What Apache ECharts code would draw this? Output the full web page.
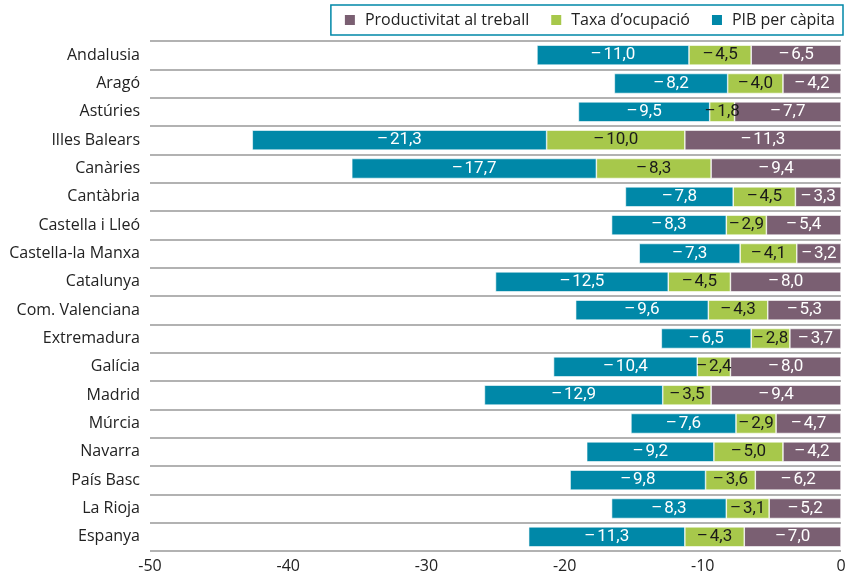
<!DOCTYPE html>
<html><head><meta charset="utf-8">
<script src="https://cdn.jsdelivr.net/npm/echarts@6/dist/echarts.min.js"></script>
<style>html,body{margin:0;padding:0;background:#fff}#c{width:853px;height:578px}</style>
</head><body><div id="c"></div>
<script>
const categories = ["Andalusia","Aragó","Astúries","Illes Balears","Canàries","Cantàbria","Castella i Lleó","Castella-la Manxa","Catalunya","Com. Valenciana","Extremadura","Galícia","Madrid","Múrcia","Navarra","País Basc","La Rioja","Espanya"];
const productivitat = [-6.5,-4.2,-7.7,-11.3,-9.4,-3.3,-5.4,-3.2,-8.0,-5.3,-3.7,-8.0,-9.4,-4.7,-4.2,-6.2,-5.2,-7.0];
const taxaOcupacio = [-4.5,-4.0,-1.8,-10.0,-8.3,-4.5,-2.9,-4.1,-4.5,-4.3,-2.8,-2.4,-3.5,-2.9,-5.0,-3.6,-3.1,-4.3];
const pibCapita = [-11.0,-8.2,-9.5,-21.3,-17.7,-7.8,-8.3,-7.3,-12.5,-9.6,-6.5,-10.4,-12.9,-7.6,-9.2,-9.8,-8.3,-11.3];
const seriesNames = ["Productivitat al treball","Taxa d’ocupació","PIB per càpita"];
const colors = ["#7a5f72","#a7c84b","#0088a8"];
const labelColors = ["#fff","#1a1a1a","#fff"];

const fmt = v => "\u2013\u200A" + Math.abs(v).toFixed(1).replace(".", ",");
const narrow = '"Liberation Sans Narrow","Roboto","DejaVu Sans Condensed",sans-serif';
const font = '"Open Sans","Noto Sans",sans-serif';

const chart = echarts.init(document.getElementById('c'));
const dataSets = [productivitat, taxaOcupacio, pibCapita];
chart.setOption({
  animation:false,
  color: colors,
  legend:{
    data: seriesNames, right:10, top:5, orient:'horizontal',
    borderColor:'#0088a8', borderWidth:1.5, padding:[7,8,7,12],
    itemWidth:12, itemHeight:12, itemGap:20,
    textStyle:{fontFamily:font, fontSize:16, color:'#222', padding:[0,0,0,4]},
    icon:'rect'
  },
  grid:{left:150, right:12, top:41, bottom:27, containLabel:false},
  xAxis:{
    type:'value', min:-50, max:0, interval:10,
    axisLine:{show:false}, axisTick:{show:false}, splitLine:{show:false},
    axisLabel:{fontFamily:font, fontSize:16, color:'#222', margin:7}
  },
  yAxis:{
    type:'category', data:categories, inverse:true,
    axisLine:{show:false}, axisTick:{show:false},
    splitLine:{show:true, lineStyle:{color:'#999', width:1.5}},
    axisLabel:{fontFamily:font, fontSize:16, color:'#222', margin:10}
  },
  series: seriesNames.map((n,i)=>({
    name:n, type:'bar', stack:'t', barWidth:20,
    data: dataSets[i],
    itemStyle:{color:colors[i], borderColor:'#fff', borderWidth:0.6},
    label:{show:true, position:'inside', formatter:p=>fmt(p.value),
      color:labelColors[i], fontFamily:narrow, fontSize:17}
  }))
});
</script></body></html>
